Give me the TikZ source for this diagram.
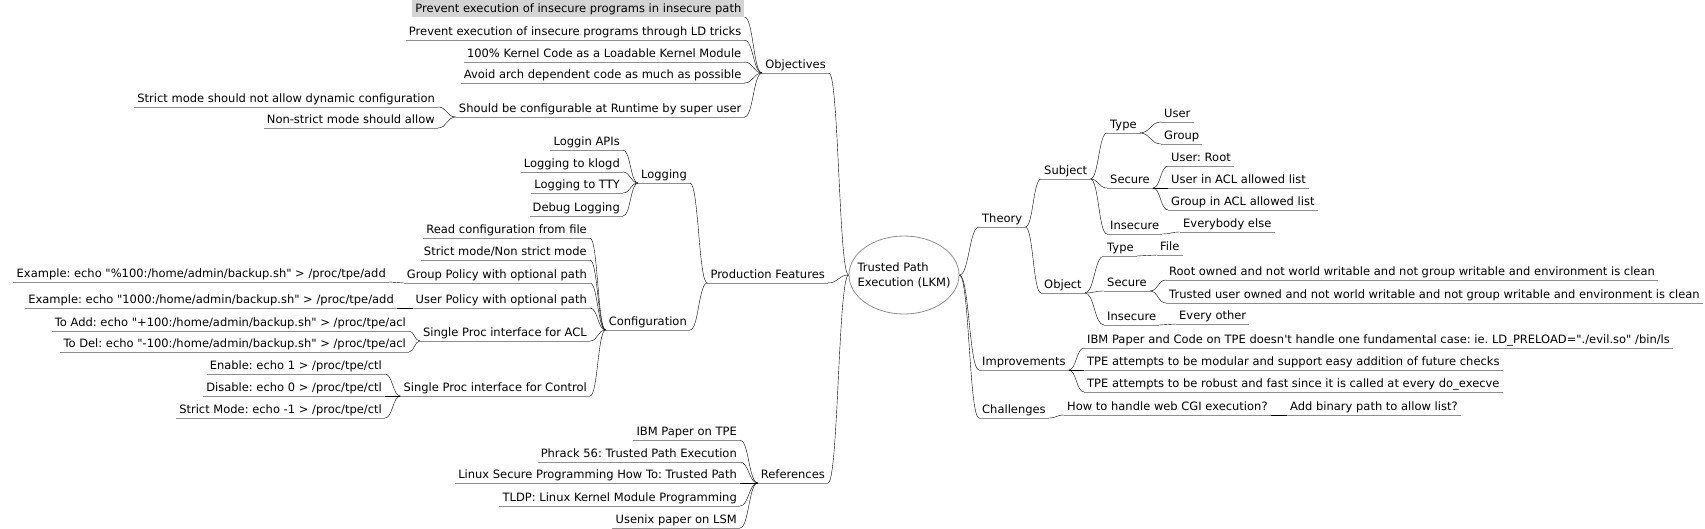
\documentclass[tikz,border=0pt]{standalone}
\usepackage{fontspec}
\setmainfont{DejaVu Sans}
\frenchspacing
\usetikzlibrary{calc,shapes.geometric}
\definecolor{edgegray}{HTML}{8E8E8E}
\definecolor{selgray}{HTML}{D4D4D4}
\newcommand\dq{\textquotedbl}
\tikzset{
  mm/.style={inner xsep=3pt, inner ysep=1.5pt, text height=8.5pt, text depth=2.5pt,
    font=\fontsize{11.5}{13}\selectfont},
  lnode/.style={mm, anchor=south east},
  rnode/.style={mm, anchor=south west},
  link/.style={draw=edgegray, line width=0.8pt,
    to path={let \p1=(\tikztostart), \p2=(\tikztotarget) in
      .. controls ({0.5*\x1+0.5*\x2},\y1) and ({0.5*\x1+0.5*\x2},\y2) .. (\tikztotarget)}},
  uline/.style={draw=edgegray, line width=0.8pt},
}
\begin{document}
\begin{tikzpicture}[x=1pt,y=-1pt]
\useasboundingbox (0,0) rectangle (1705,529);
% root
\node[ellipse, draw=edgegray, line width=0.8pt, minimum width=110pt, minimum height=78pt, inner sep=0pt] (root) at (904,275) {};
\node[align=left, inner sep=0pt, font=\fontsize{11.5}{15}\selectfont] (roottext) at (root.center) {Trusted Path\\Execution (LKM)};
% ---- left: Objectives
\node[lnode, fill=selgray, text height=11.5pt] (c1) at (744.5,17) {Prevent execution of insecure programs in insecure path};
\node[lnode] (c2) at (744.5,40) {Prevent execution of insecure programs through LD tricks};
\node[lnode] (c3) at (744.5,62) {100\% Kernel Code as a Loadable Kernel Module};
\node[lnode] (c4) at (744.5,83) {Avoid arch dependent code as much as possible};
\node[lnode] (c5) at (744.5,117) {Should be configurable at Runtime by super user};
\node[lnode] (obj) at (829,73) {Objectives};
\node[lnode] (s1) at (438,107) {Strict mode should not allow dynamic configuration};
\node[lnode] (s2) at (438,128) {Non-strict mode should allow};
% ---- left: Production Features
\node[lnode] (l1) at (623,150) {Loggin APIs};
\node[lnode] (l2) at (623,172) {Logging to klogd};
\node[lnode] (l3) at (623,193) {Logging to TTY};
\node[lnode] (l4) at (623,216) {Debug Logging};
\node[lnode] (log) at (690,183) {Logging};
\node[lnode] (g1) at (590,238) {Read configuration from file};
\node[lnode] (g2) at (590,260) {Strict mode/Non strict mode};
\node[lnode] (g3) at (590,283) {Group Policy with optional path};
\node[lnode] (g4) at (590,308) {User Policy with optional path};
\node[lnode] (g5) at (590,341) {Single Proc interface for ACL};
\node[lnode] (g6) at (590,396) {Single Proc interface for Control};
\node[lnode] (g3a) at (389,282) {Example: echo \dq\%100:/home/admin/backup.sh\dq{} > /proc/tpe/add};
\node[lnode] (g4a) at (397,308) {Example: echo \dq 1000:/home/admin/backup.sh\dq{} > /proc/tpe/add};
\node[lnode] (g5a) at (409,331) {To Add: echo \dq+100:/home/admin/backup.sh\dq{} > /proc/tpe/acl};
\node[lnode] (g5b) at (409,352) {To Del: echo \dq-100:/home/admin/backup.sh\dq{} > /proc/tpe/acl};
\node[lnode] (g6a) at (385,374) {Enable: echo 1 > /proc/tpe/ctl};
\node[lnode] (g6b) at (385,396) {Disable: echo 0 > /proc/tpe/ctl};
\node[lnode] (g6c) at (385,418) {Strict Mode: echo -1 > /proc/tpe/ctl};
\node[lnode] (conf) at (690,330) {Configuration};
\node[lnode] (pf) at (828,283) {Production Features};
% ---- left: References
\node[lnode] (r1) at (740,440) {IBM Paper on TPE};
\node[lnode] (r2) at (740,462) {Phrack 56: Trusted Path Execution};
\node[lnode] (r3) at (740,483) {Linux Secure Programming How To: Trusted Path};
\node[lnode] (r4) at (740,506) {TLDP: Linux Kernel Module Programming};
\node[lnode] (r5) at (740,528) {Usenix paper on LSM};
\node[lnode] (ref) at (828,483) {References};
% ---- right: Theory
\node[rnode] (th) at (979,227) {Theory};
\node[rnode] (sub) at (1041,179) {Subject};
\node[rnode] (st) at (1107,133) {Type};
\node[rnode] (stu) at (1161,122) {User};
\node[rnode] (stg) at (1161,144) {Group};
\node[rnode] (ss) at (1107,188) {Secure};
\node[rnode] (ssr) at (1168,166) {User: Root};
\node[rnode] (ssu) at (1168,188) {User in ACL allowed list};
\node[rnode] (ssg) at (1168,210) {Group in ACL allowed list};
\node[rnode] (si) at (1107,234) {Insecure};
\node[rnode] (sie) at (1180,232) {Everybody else};
\node[rnode] (ob) at (1041,293) {Object};
\node[rnode] (ot) at (1104,256) {Type};
\node[rnode] (otf) at (1157,255) {File};
\node[rnode] (os) at (1104,291) {Secure};
\node[rnode] (osr) at (1166,280) {Root owned and not world writable and not group writable and environment is clean};
\node[rnode] (ost) at (1166,303) {Trusted user owned and not world writable and not group writable and environment is clean};
\node[rnode] (oi) at (1104,325) {Insecure};
\node[rnode] (oie) at (1176,324) {Every other};
% ---- right: Improvements, Challenges
\node[rnode] (imp) at (979,370) {Improvements};
\node[rnode] (i1) at (1084,348) {IBM Paper and Code on TPE doesn\textquotesingle t handle one fundamental case: ie. LD\_PRELOAD=\dq./evil.so\dq{} /bin/ls};
\node[rnode] (i2) at (1084,370) {TPE attempts to be modular and support easy addition of future checks};
\node[rnode] (i3) at (1084,392) {TPE attempts to be robust and fast since it is called at every do\_execve};
\node[rnode] (ch) at (979,418) {Challenges};
\node[rnode] (ch1) at (1064,415) {How to handle web CGI execution?};
\node[rnode] (ch2) at (1287,415) {Add binary path to allow list?};
% underlines
\foreach \nn in {c2,c3,c4,c5,obj,s1,s2,l1,l2,l3,l4,log,g1,g2,g3,g4,g5,g6,g3a,g4a,g5a,g5b,g6a,g6b,g6c,conf,pf,r1,r2,r3,r4,r5,ref,
  th,sub,st,stu,stg,ss,ssr,ssu,ssg,si,sie,ob,ot,otf,os,osr,ost,oi,oie,imp,i1,i2,i3,ch,ch1,ch2}
  \draw[uline] (\nn.south west) -- (\nn.south east);
% left connectors
\foreach \kid/\mom in {c1/obj,c2/obj,c3/obj,c4/obj,c5/obj,s1/c5,s2/c5,
  l1/log,l2/log,l3/log,l4/log,g1/conf,g2/conf,g3/conf,g4/conf,g5/conf,g6/conf,
  g3a/g3,g4a/g4,g5a/g5,g5b/g5,g6a/g6,g6b/g6,g6c/g6,log/pf,conf/pf,
  r1/ref,r2/ref,r3/ref,r4/ref,r5/ref}
  \draw (\kid.south east) to[link] (\mom.south west);
\foreach \kid in {obj,pf,ref}
  \draw (\kid.south east) to[link] (root.west);
% right connectors
\foreach \mom/\kid in {sub/st,sub/ss,sub/si,st/stu,st/stg,ss/ssr,ss/ssu,ss/ssg,si/sie,
  th/sub,th/ob,ob/ot,ob/os,ob/oi,ot/otf,os/osr,os/ost,oi/oie,
  imp/i1,imp/i2,imp/i3,ch/ch1,ch1/ch2}
  \draw (\mom.south east) to[link] (\kid.south west);
\foreach \kid in {th,imp,ch}
  \draw (root.east) to[link] (\kid.south west);
\end{tikzpicture}
\end{document}
